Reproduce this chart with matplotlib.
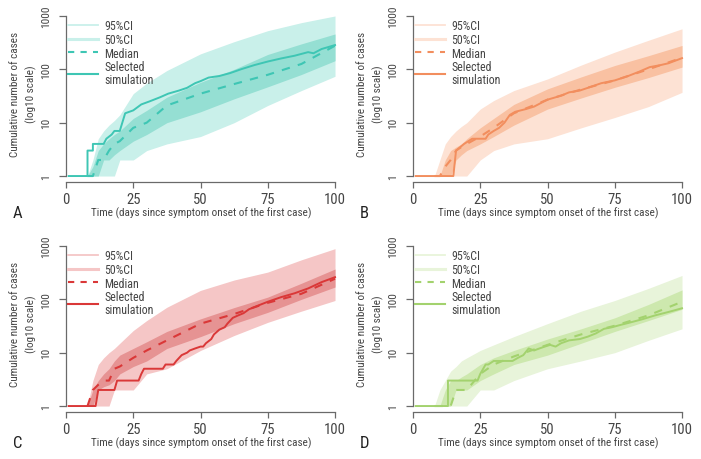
import numpy as np
import matplotlib
matplotlib.use("Agg")
import matplotlib.pyplot as plt
from matplotlib import font_manager
from matplotlib.lines import Line2D

# pick a condensed font if available
FONT = "Roboto"
for fam in ["Roboto Condensed", "Liberation Sans Narrow", "Roboto"]:
    try:
        font_manager.findfont(font_manager.FontProperties(family=fam), fallback_to_default=False)
        FONT = fam
        break
    except Exception:
        pass
plt.rcParams["font.family"] = [FONT, "DejaVu Sans"]

# ---------------- data ----------------
band_days = [0, 8, 10, 12, 14, 16, 18, 20, 25, 30, 37.5, 50, 62.5, 75, 87.5, 100]

# Panel A
A_lo95 = [1, 1, 1, 1, 1, 1, 1, 2, 2, 3, 4, 5.5, 10, 21, 40, 74]
A_hi95 = [1, 1, 2, 5, 7, 9, 11, 14, 35, 55, 95, 195, 330, 530, 750, 1000]
A_lo50 = [1, 1, 1, 1, 2, 2, 2.5, 3, 4.5, 6, 10, 16, 28, 47, 80, 145]
A_hi50 = [1, 1, 1.5, 3, 4, 5, 6, 7, 12, 17, 30, 57, 100, 190, 300, 460]
A_med = [1, 1, 1, 2, 2, 3, 4, 4.5, 8, 10, 21, 35, 53, 79, 126, 277]
A_sel_days = [1, 8, 8, 10, 10, 14, 15, 17, 18, 20, 22, 25, 28, 31, 35, 38, 42, 45, 48, 50, 53, 57, 61, 65, 70, 75, 80, 85, 90, 92, 95, 100]
A_sel = [1, 1, 3, 3, 4, 4, 5, 6, 7, 7, 15, 17, 22, 25, 30, 35, 40, 45, 55, 60, 70, 75, 85, 100, 120, 140, 160, 180, 210, 200, 240, 285]

# Panel B
B_lo95 = [1, 1, 1, 1, 1, 1, 1, 1, 2, 3, 4, 5, 8, 12.5, 20, 37]
B_hi95 = [1, 1, 2, 4, 5.5, 7, 8.5, 10, 18, 26, 40, 66, 120, 210, 350, 575]
B_lo50 = [1, 1, 1, 1, 1, 2, 2.5, 3, 4, 5.5, 9, 18, 29, 46, 70, 110]
B_hi50 = [1, 1, 1, 2, 3, 3.5, 4, 5, 8, 12, 22, 43, 72, 118, 180, 280]
B_med = [1, 1, 1, 1.5, 2, 3, 3.5, 4, 5.5, 8, 15, 27, 42, 62, 100, 165]
B_sel_days = [1, 15, 16, 19, 22, 27, 28, 30, 32, 34, 36, 38, 42, 45, 48, 50, 55, 58, 62, 65, 70, 75, 80, 84, 88, 92, 95, 100]
B_sel = [1, 1, 3, 4, 5, 5, 6, 7, 8, 10, 14, 16, 18, 20, 24, 27, 32, 37, 40, 45, 55, 62, 75, 90, 110, 120, 130, 162]

# Panel C
C_lo95 = [1, 1, 1, 1, 1, 1, 2, 2, 2, 4, 5, 11, 21, 37, 60, 95]
C_hi95 = [1, 1, 3, 6, 8, 10, 12, 15, 26, 40, 71, 147, 230, 324, 550, 890]
C_lo50 = [1, 1, 1, 2, 2.3, 2.5, 3, 4, 5.5, 7, 12, 20, 35, 57, 100, 170]
C_hi50 = [1, 1, 2, 3, 4, 5, 7, 9, 12, 16, 25, 43, 70, 110, 200, 370]
C_med = [1, 1, 2, 2.5, 3, 3, 5, 5.5, 8, 11, 17, 35, 53, 86, 127, 243]
C_sel_days = [1, 11, 12, 18, 19, 27, 28, 29, 36, 37, 40, 41, 43, 45, 46, 48, 50, 51, 52, 54, 55, 57, 59, 60, 62, 64, 66, 68, 71, 75, 80, 85, 90, 95, 100]
C_sel = [1, 1, 2, 2, 3, 3, 4, 5, 5, 6, 6, 7, 9, 10, 11, 12, 13, 13, 15, 18, 22, 27, 30, 35, 45, 50, 55, 65, 75, 90, 110, 130, 160, 210, 260]

# Panel D
D_lo95 = [1, 1, 1, 1, 1, 1, 1, 1, 2, 2, 3, 5, 7, 10, 17, 28]
D_hi95 = [1, 1, 2, 3, 4.5, 5.5, 7, 8, 11, 14, 20, 35, 60, 95, 160, 280]
D_lo50 = [1, 1, 1, 1, 1, 2, 2, 2, 3, 4, 6, 9, 15, 25, 40, 65]
D_hi50 = [1, 1, 1, 2, 3, 3, 3.5, 4, 6, 8, 11, 18, 28, 45, 80, 150]
D_med = [1, 1, 1, 1, 1, 2, 2, 2, 4, 6, 8.5, 14, 22, 32, 50, 90]
D_sel_days = [1, 13, 13, 24, 25, 27, 28, 30, 37, 39, 41, 43, 45, 47, 49, 51, 53, 55, 58, 62, 65, 68, 71, 74, 77, 80, 85, 90, 95, 100]
D_sel = [1, 1, 3, 3, 4, 6, 6, 7, 7, 8, 9, 12, 11, 12, 13, 14, 13, 15, 17, 18, 20, 23, 28, 30, 33, 36, 42, 50, 58, 68]

panel_letters = ["A", "B", "C", "D"]
legend_labels = ["95%CI", "50%CI", "Median", "Selected\nsimulation"]
x_ticks = [0, 25, 50, 75, 100]
y_ticks = [1, 10, 100, 1000]
x_label = "Time (days since symptom onset of the first case)"
y_label = "Cumulative number of cases\n(log10 scale)"

panels = [
    dict(lo95=A_lo95, hi95=A_hi95, lo50=A_lo50, hi50=A_hi50, med=A_med, sd=A_sel_days, sel=A_sel,
         line="#3ec6b4", light="#c9f0ea", dark="#95dfd3"),
    dict(lo95=B_lo95, hi95=B_hi95, lo50=B_lo50, hi50=B_hi50, med=B_med, sd=B_sel_days, sel=B_sel,
         line="#f28e5e", light="#fde2d4", dark="#f9c1a2"),
    dict(lo95=C_lo95, hi95=C_hi95, lo50=C_lo50, hi50=C_hi50, med=C_med, sd=C_sel_days, sel=C_sel,
         line="#da3838", light="#f5c6c6", dark="#e69393"),
    dict(lo95=D_lo95, hi95=D_hi95, lo50=D_lo50, hi50=D_hi50, med=D_med, sd=D_sel_days, sel=D_sel,
         line="#a3d26e", light="#e8f4da", dark="#cde8ae"),
]

# ---------------- figure ----------------
W, H = 701, 460
fig = plt.figure(figsize=(W / 100, H / 100), dpi=100)

lefts = [60.6, 407.6]
tops = [14.3, 244.3]
ax_w, ax_h = 279.8, 168.6
axis_col = "#6a6a6a"
txt_col = "#444444"
fs_leg = 8.6
fs_lab = 8.0
fs_xt = 10.5
fs_yt = 8.2

for i, p in enumerate(panels):
    col = i % 2
    row = i // 2
    l = lefts[col]
    t = tops[row]
    ax = fig.add_axes([l / W, 1 - (t + ax_h) / H, ax_w / W, ax_h / H])
    ax.set_yscale("log")
    ax.set_xlim(-2, 102)
    ax.set_ylim(10 ** -0.11, 10 ** 3.05)

    ax.fill_between(band_days, p["lo95"], p["hi95"], color=p["light"], lw=0, zorder=1)
    ax.fill_between(band_days, p["lo50"], p["hi50"], color=p["dark"], lw=0, zorder=2)
    ax.plot(band_days[1:], p["med"][1:], color=p["line"], lw=1.5, ls=(0, (4, 4)), zorder=3)
    ax.plot(p["sd"], p["sel"], color=p["line"], lw=1.4, zorder=4)

    for s in ["top", "right"]:
        ax.spines[s].set_visible(False)
    ax.spines["left"].set_bounds(1, 1000)
    ax.spines["bottom"].set_bounds(0, 100)
    ax.spines["left"].set_position(("data", 0))
    for s in ["left", "bottom"]:
        ax.spines[s].set_color(axis_col)
        ax.spines[s].set_linewidth(0.9)

    ax.set_xticks(x_ticks)
    ax.set_xticklabels([str(v) for v in x_ticks])
    ax.set_yticks(y_ticks)
    ax.set_yticklabels([str(v) for v in y_ticks], rotation=90, va="center")
    ax.yaxis.set_minor_locator(matplotlib.ticker.NullLocator())
    ax.tick_params(axis="both", which="major", width=0.9, color=axis_col, labelcolor=txt_col)
    ax.tick_params(axis="x", length=4.5, pad=3.0, labelsize=fs_xt)
    ax.tick_params(axis="y", length=5, pad=5.5, labelsize=fs_yt)

    ax.set_xlabel(x_label, fontsize=fs_lab, color=txt_col)
    ax.xaxis.label.set_va("center")
    ax.xaxis.set_label_coords(0.504, -(213 - 182.9) / ax_h)
    ax.set_ylabel(y_label, fontsize=fs_lab, color=txt_col, linespacing=1.6)
    ax.yaxis.label.set_va("center")
    ax.yaxis.set_label_coords((23.5 - 60.6) / ax_w, 1 - (94 - 14.3) / ax_h)

    # panel letter
    fig.text((l - 47.5) / W, 1 - (t + 199) / H, panel_letters[i], fontsize=12,
             color="#222222", ha="left", va="center")

    handles = [
        Line2D([], [], color=p["light"], lw=1.3),
        Line2D([], [], color=p["light"], lw=2.2),
        Line2D([], [], color=p["line"], lw=1.5, ls=(0, (3, 3))),
        Line2D([], [], color=p["line"], lw=1.5),
    ]
    leg = ax.legend(handles, legend_labels, loc="upper left", bbox_to_anchor=(0.027, 0.965),
                    frameon=False, fontsize=fs_leg, handlelength=2.5, handletextpad=0.55,
                    labelspacing=0.06, borderpad=0, borderaxespad=0)
    for tx in leg.get_texts():
        tx.set_color(txt_col)
        tx.set_linespacing(1.0)

fig.savefig("out.png", dpi=100)
